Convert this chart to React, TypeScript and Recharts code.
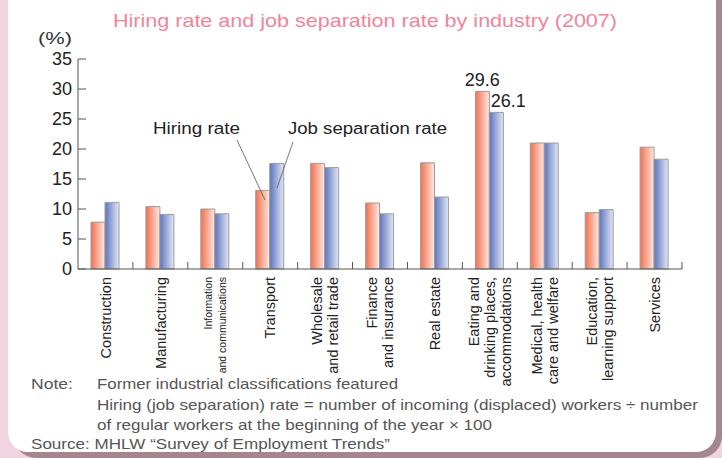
import React from "react";
import { BarChart, Bar, XAxis, YAxis, LabelList } from "recharts";

const industries = [
  "Construction",
  "Manufacturing",
  "Information and communications",
  "Transport",
  "Wholesale and retail trade",
  "Finance and insurance",
  "Real estate",
  "Eating and drinking places, accommodations",
  "Medical, health care and welfare",
  "Education, learning support",
  "Services",
];

const tickLines: string[][] = [
  ["Construction"],
  ["Manufacturing"],
  ["Information", "and communications"],
  ["Transport"],
  ["Wholesale", "and retail trade"],
  ["Finance", "and insurance"],
  ["Real estate"],
  ["Eating and", "drinking places,", "accommodations"],
  ["Medical, health", "care and welfare"],
  ["Education,", "learning support"],
  ["Services"],
];

const hiringRate = [7.8, 10.4, 10.0, 13.1, 17.6, 11.0, 17.7, 29.6, 21.0, 9.4, 20.3];
const separationRate = [11.1, 9.1, 9.2, 17.6, 16.9, 9.2, 12.0, 26.1, 21.0, 9.9, 18.3];
const yTicks = [0, 5, 10, 15, 20, 25, 30, 35];
const labelledIndex = 7;

const data = industries.map((name, i) => ({
  name,
  lines: tickLines[i],
  hiring: hiringRate[i],
  separation: separationRate[i],
}));

const W = 722;
const H = 458;
const plotLeft = 78;
const plotRight = 40;
const band = (W - plotLeft - plotRight) / industries.length;
const font = "'Liberation Sans', Arial, sans-serif";

function IndustryTick(props: any) {
  const { x, y, index } = props;
  const lines = tickLines[index] || [];
  const small = index === 2;
  const fs = small ? 10.5 : 14.5;
  const gap = small ? 14 : 16;
  const n = lines.length;
  return (
    <g>
      <line x1={x + band / 2} x2={x + band / 2} y1={y - 8} y2={y - 15} stroke="#555" />
      {lines.map((t, i) => {
        const lx = x + (i - (n - 1) / 2) * gap;
        return (
          <text
            key={i}
            x={lx}
            y={y}
            dy="0.36em"
            textAnchor="end"
            transform={`rotate(-90, ${lx}, ${y})`}
            fontSize={fs}
            fontFamily={font}
            fill="#222"
          >
            {t}
          </text>
        );
      })}
    </g>
  );
}

function valueLabel(dx: number) {
  return (props: any) => {
    const { x, y, width, value, index } = props;
    if (index !== labelledIndex) return null;
    return (
      <text
        x={Number(x) + Number(width) / 2 + dx}
        y={Number(y) - 5}
        textAnchor="middle"
        fontSize={18}
        fontFamily={font}
        fill="#222"
      >
        {value}
      </text>
    );
  };
}

export default function App() {
  return (
    <div
      style={{
        position: "absolute",
        left: 0,
        top: 0,
        width: W,
        height: H,
        overflow: "hidden",
        background: "#f2d3e0",
      }}
    >
      <div
        style={{
          position: "absolute",
          left: 14,
          top: -30,
          width: 708,
          height: 488,
          borderRadius: 22,
          background: "#a5868d",
        }}
      />
      <div
        style={{
          position: "absolute",
          left: 8,
          top: -30,
          width: 708,
          height: 482,
          borderRadius: 20,
          background: "#ffffff",
        }}
      />
      <div style={{ position: "absolute", left: 0, top: 0 }}>
        <BarChart
          width={W}
          height={H}
          data={data}
          margin={{ top: 59, right: plotRight, left: 0, bottom: 0 }}
          barSize={14}
          barGap={0}
        >
          <defs>
            <linearGradient id="gHire" x1="0" y1="0" x2="1" y2="0">
              <stop offset="0%" stopColor="#f2704f" />
              <stop offset="100%" stopColor="#fee9e1" />
            </linearGradient>
            <linearGradient id="gSep" x1="0" y1="0" x2="1" y2="0">
              <stop offset="0%" stopColor="#5d74bd" />
              <stop offset="100%" stopColor="#e2e7f6" />
            </linearGradient>
          </defs>
          <XAxis
            dataKey="name"
            height={189}
            interval={0}
            tickLine={false}
            tickSize={0}
            tickMargin={8}
            axisLine={{ stroke: "#555" }}
            tick={<IndustryTick />}
          />
          <YAxis
            width={plotLeft}
            domain={[0, 35]}
            ticks={yTicks}
            interval={0}
            tickSize={-8}
            tickMargin={14}
            axisLine={{ stroke: "#555" }}
            tickLine={{ stroke: "#555" }}
            tick={{ fill: "#222", fontSize: 18, fontFamily: font }}
          />
          <Bar dataKey="hiring" fill="url(#gHire)" stroke="#9c9c9c" strokeWidth={1} isAnimationActive={false}>
            <LabelList dataKey="hiring" content={valueLabel(0)} />
          </Bar>
          <Bar dataKey="separation" fill="url(#gSep)" stroke="#9c9c9c" strokeWidth={1} isAnimationActive={false}>
            <LabelList dataKey="separation" content={valueLabel(12)} />
          </Bar>
        </BarChart>
      </div>
      <svg
        width={W}
        height={H}
        style={{ position: "absolute", left: 0, top: 0, pointerEvents: "none" }}
        fontFamily={font}
      >
        <text x={113} y={27} fontSize={19} fill="#f0849b" textLength={504} lengthAdjust="spacingAndGlyphs">
          Hiring rate and job separation rate by industry (2007)
        </text>
        <text x={38} y={44} fontSize={16} fill="#333" textLength={34} lengthAdjust="spacingAndGlyphs">
          (%)
        </text>
        <text x={153} y={134} fontSize={16} fill="#222" textLength={87} lengthAdjust="spacingAndGlyphs">
          Hiring rate
        </text>
        <text x={288} y={134} fontSize={16} fill="#222" textLength={159} lengthAdjust="spacingAndGlyphs">
          Job separation rate
        </text>
        <line x1={237} y1={140} x2={265} y2={200} stroke="#555" strokeWidth={0.8} />
        <line x1={293} y1={142} x2={277} y2={188} stroke="#555" strokeWidth={0.8} />
        <g fill="#555" fontSize={15}>
          <text x={31} y={389} textLength={42} lengthAdjust="spacingAndGlyphs">Note:</text>
          <text x={97} y={389} textLength={301} lengthAdjust="spacingAndGlyphs">
            Former industrial classifications featured
          </text>
          <text x={97} y={410} textLength={601} lengthAdjust="spacingAndGlyphs">
            Hiring (job separation) rate = number of incoming (displaced) workers ÷ number
          </text>
          <text x={97} y={430} textLength={395} lengthAdjust="spacingAndGlyphs">
            of regular workers at the beginning of the year × 100
          </text>
          <text x={31} y={449} textLength={359} lengthAdjust="spacingAndGlyphs">
            Source: MHLW “Survey of Employment Trends”
          </text>
        </g>
      </svg>
    </div>
  );
}
